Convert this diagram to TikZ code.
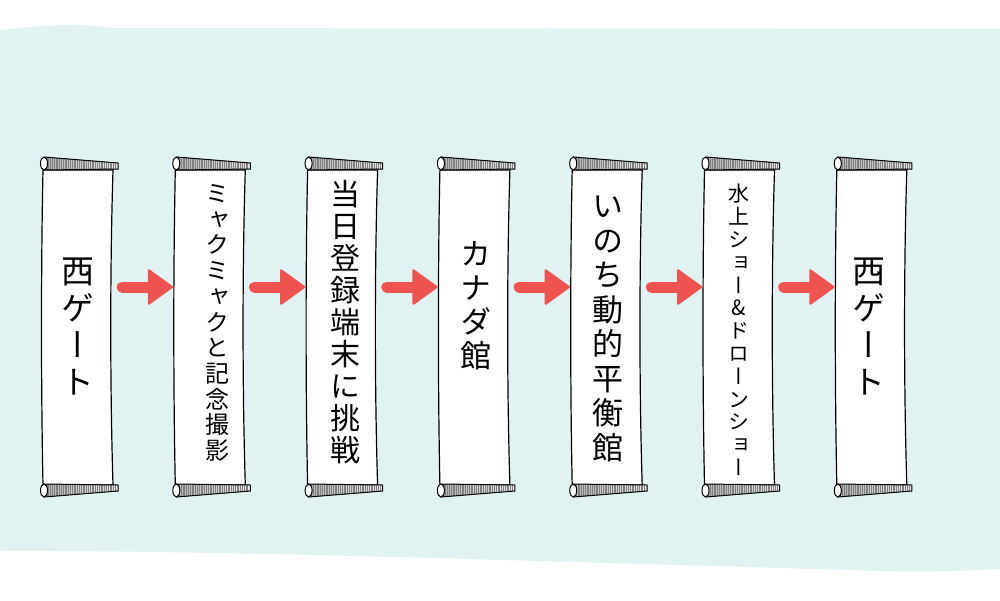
\documentclass[tikz,border=0pt]{standalone}
\usepackage{fontspec}
\usepackage{tikz}
\usetikzlibrary{arrows.meta}
\newfontfamily\jpfont[RawFeature=+vert]{Noto Sans CJK JP}
\definecolor{bandteal}{RGB}{225,242,242}
\definecolor{arrowred}{RGB}{239,83,80}
\makeatletter
\newcommand\tate[3]{{\fontsize{#1}{#2}\jpfont\lineskiplimit=-\maxdimen
  \vbox{\@tfor\tc:=#3\do{\hbox to #1{\hss\tc\hss}}}}}
\makeatother

\begin{document}
\begin{tikzpicture}[x=1pt,y=-1pt]
		\tikzset{panel/.style = {minimum width=72pt, minimum height=330pt, inner sep=0pt}}
		\tikzset{tatetext/.style = {inner sep=0pt}}
		\tikzset{flow/.style = {draw=arrowred, line width=11pt, line cap=round,
				-{Triangle[width=37pt,length=26pt,round,line width=2pt]},
				shorten <=8pt, shorten >=1pt}}
		\tikzset{scroll/.pic = {
				\draw[fill=white, line width=1.2pt] (-35,-157) .. controls (-37,-60) and (-37,60) .. (-35,158)
					-- (35,158) .. controls (32,60) and (32,-60) .. (35,-157) -- cycle;
				\foreach \s in {1,-1} {
					\begin{scope}[yscale=\s]
						\fill[left color=gray!60, right color=gray!20] (-34,-157) -- (40,-158) -- (40,-164) -- (-34,-170) -- cycle;
						\begin{scope}
							\clip (-34,-157) -- (40,-158) -- (40,-164) -- (-34,-170) -- cycle;
							\foreach \x in {-33,-31.2,...,39} \draw[black!50, line width=.4pt] (\x,-171) -- (\x,-156);
						\end{scope}
						\draw[line width=1pt] (-34,-157) -- (40,-158) -- (40,-164) -- (-34,-170);
						\draw[fill=white, line width=1pt] (-34,-163.5) ellipse [x radius=3.5, y radius=6.5];
					\end{scope}
				}
		}}
		\useasboundingbox (0,0) rectangle (1000,600);
		% background
		\fill[white] (0,0) rectangle (1000,600);
		\fill[bandteal] (0,30) .. controls (40,26) and (80,22) .. (110,28) -- (1000,29) -- (1000,569)
			.. controls (950,572) and (900,572) .. (850,570) .. controls (500,560) and (200,550) .. (0,551) -- cycle;
		% scrolls
		\foreach \i in {1,...,7} {
			\pic at ({78+132.3*(\i-1)},327) {scroll};
			\node[panel] (s\i) at ({78+132.3*(\i-1)},327) {};
		}
		% texts
		\node[tatetext] (t1) at (78,327) {\tate{33pt}{37pt}{西ゲート}};
		\node[tatetext] (t2) at (217,323) {\tate{24pt}{25.7pt}{ミャクミャクと記念撮影}};
		\node[tatetext] (t3) at (345,322) {\tate{30pt}{32pt}{当日登録端末に挑戦}};
		\node[tatetext] (t4) at (476,306) {\tate{31pt}{34pt}{カナダ館}};
		\node[tatetext] (t5) at (608,329) {\tate{31pt}{34.5pt}{いのち動的平衡館}};
		\node[tatetext] (t6) at (739,330) {\tate{21pt}{22.8pt}{水上ショー\&ドローンショー}};
		\node[tatetext] (t7) at (869,327) {\tate{33pt}{37pt}{西ゲート}};
		% arrows
		\coordinate (mid) at (0,287);
		\foreach \a/\b in {1/2,2/3,3/4,4/5,5/6,6/7}
			\draw[flow] (s\a.east |- mid) -- (s\b.west |- mid);
\end{tikzpicture}
\end{document}
